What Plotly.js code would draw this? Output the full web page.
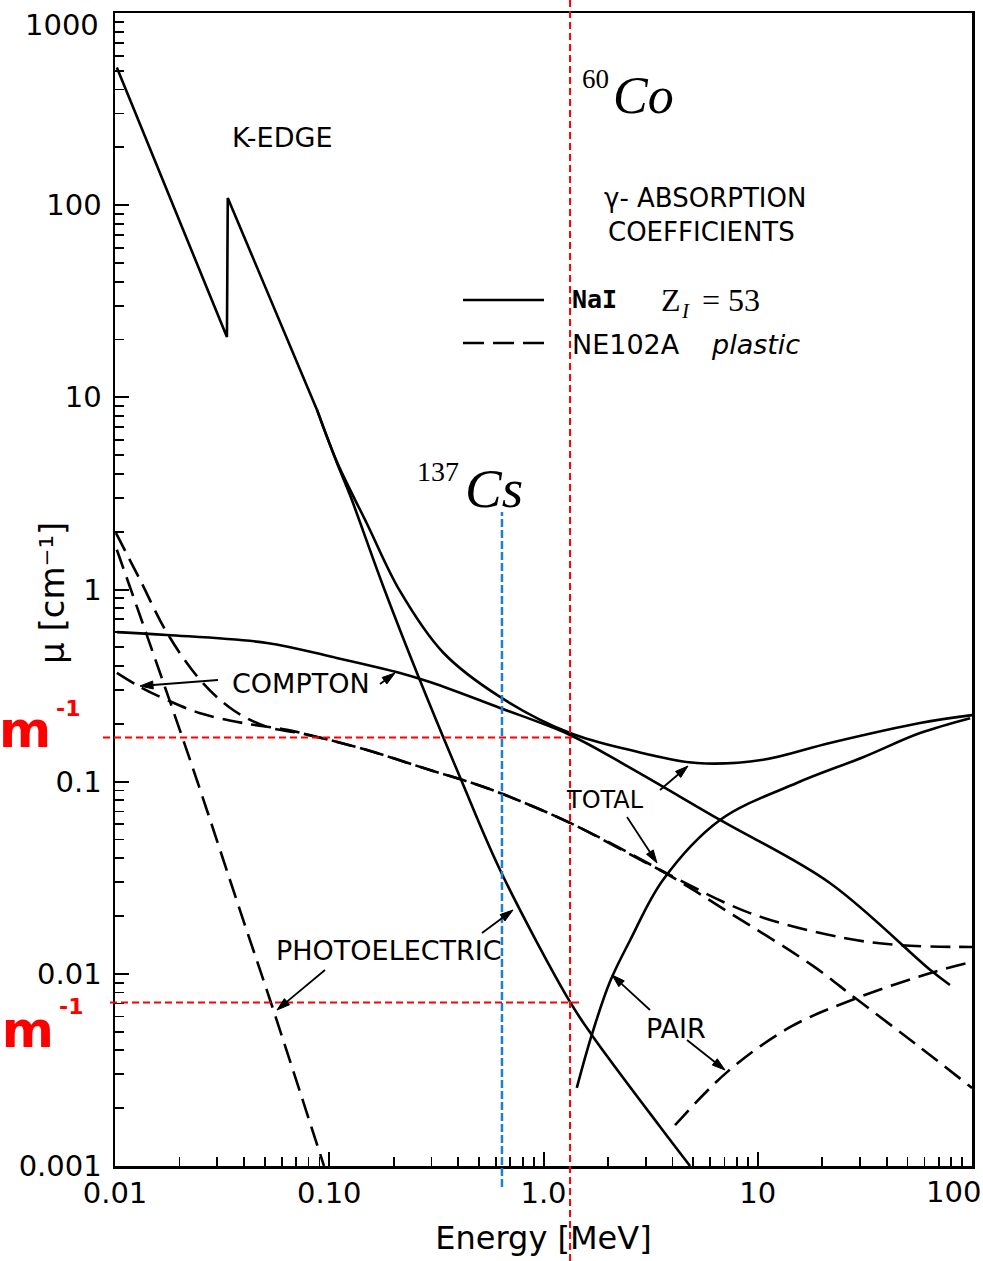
<!DOCTYPE html>
<html>
<head>
<meta charset="utf-8">
<script src="https://cdn.plot.ly/plotly-3.0.1.min.js"></script>
<style>html,body{margin:0;padding:0;background:#fff;}</style>
</head>
<body>
<div id="chart" style="width:983px;height:1261px;"></div>
<script>
// ---------------- data ----------------
// NaI (solid lines)
const naiTotalE  = [0.0102, 0.0333, 0.0336, 0.0877, 0.1087, 0.150, 0.214, 0.340, 0.627, 1.33, 2.54, 5.2, 10.6, 21.7, 57.2, 100];
const naiTotalMu = [520,    20.6,   109,    8.6,    4.6,    2.2,   0.98,  0.47,  0.276, 0.179, 0.146, 0.125, 0.130, 0.159, 0.202, 0.222];
const naiPhotoE  = [0.0877, 0.1087, 0.125, 0.178, 0.259, 0.407, 0.627, 1.33, 1.68, 3.50, 4.83];
const naiPhotoMu = [8.6,    4.55,   3.10,  1.05,  0.359, 0.106, 0.0347, 0.00714, 0.00481, 0.0016, 0.001];
const naiComptonE  = [0.0102, 0.0175, 0.0512, 0.104, 0.214, 0.295, 0.627, 1.33, 2.54, 6.67, 21.7, 63.7, 78.9];
const naiComptonMu = [0.60,   0.58,   0.527,  0.445, 0.368, 0.330, 0.242, 0.175, 0.118, 0.0632, 0.0297, 0.0105, 0.00875];
const naiPairE  = [1.43, 1.68, 2.04, 2.54, 3.61, 6.67, 15.2, 31.0, 57.2, 98];
const naiPairMu = [0.00255, 0.00481, 0.00907, 0.0150, 0.0308, 0.0632, 0.0984, 0.134, 0.179, 0.214];
// NE102A plastic (dashed lines)
const plTotalE  = [0.0101, 0.0131, 0.0175, 0.025, 0.0356, 0.0512, 0.073, 0.0877, 0.150, 0.295, 0.421, 0.627, 1.33, 3.5, 9.2, 25.0, 46.1, 100];
const plTotalMu = [1.97,   1.12,   0.594,  0.338, 0.236,  0.193,  0.179, 0.171,  0.146, 0.115, 0.102, 0.0873, 0.061, 0.0347, 0.0207, 0.0154, 0.0141, 0.0138];
const plPhotoE  = [0.0102, 0.0171, 0.0241, 0.0387, 0.0535, 0.0945];
const plPhotoMu = [1.61,   0.311,  0.102,  0.0207, 0.00705, 0.001];
const plComptonE  = [0.0102, 0.0131, 0.0175, 0.025, 0.0395, 0.0635, 0.0877, 0.150, 0.295, 0.421, 0.627, 1.33, 3.5, 7.43, 18.1, 28.5, 55.4, 100];
const plComptonMu = [0.368,  0.311,  0.266,  0.227, 0.202,  0.186,  0.171,  0.146, 0.115, 0.102, 0.0873, 0.061, 0.0347, 0.0207, 0.0110, 0.00748, 0.00426, 0.00255];
const plPairE  = [4.11, 7.19, 14.2, 29.0, 65.8, 100];
const plPairMu = [0.00163, 0.00308, 0.00529, 0.00748, 0.0102, 0.01153];
// reference markers
const co60Energy = 1.33;    // MeV
const cs137Energy = 0.64;   // MeV (as drawn)
const muMarks = [0.17, 0.0071];
// axis ticks
const xTickVals = [0.01, 0.1, 1, 10, 100];
const xTickText = ['0.01', '0.10', '1.0', '10', '100'];
const yTickVals = [1000, 100, 10, 1, 0.1, 0.01, 0.001];
const yTickText = ['1000', '100', '10', '1', '0.1', '0.01', '0.001'];

// ---------------- layout helpers ----------------
const W = 983, H = 1261, L = 115, R = 972, T = 13, B = 1166;
const px = xp => (xp - L) / (R - L);
const py = yp => (B - yp) / (B - T);
function minorVals(lo, hi) {
  const v = [];
  for (let e = lo; e < hi; e++) for (let k = 2; k <= 9; k++) v.push(k * Math.pow(10, e));
  return v;
}

const SOLID = {color: 'black', width: 2.6};
const DASH = {color: 'black', width: 2.6, dash: '20px,9px'};
function tr(x, y, line, shape) {
  return {x, y, type: 'scatter', mode: 'lines', line: Object.assign({shape: shape || 'spline', smoothing: 1}, line), hoverinfo: 'skip', showlegend: false};
}
const edgeN = 4;
const data = [
  tr(naiTotalE.slice(0, edgeN), naiTotalMu.slice(0, edgeN), SOLID, 'linear'),
  tr(naiTotalE.slice(edgeN - 1), naiTotalMu.slice(edgeN - 1), SOLID),
  tr(naiPhotoE, naiPhotoMu, SOLID),
  tr(naiComptonE, naiComptonMu, SOLID),
  tr(naiPairE, naiPairMu, SOLID),
  tr(plTotalE, plTotalMu, DASH),
  tr(plPhotoE, plPhotoMu, DASH),
  tr(plComptonE, plComptonMu, DASH),
  tr(plPairE, plPairMu, DASH)
];

const LBL = 'DejaVu Sans';
const SERIF = 'Liberation Serif';
function txt(xp, yp, text, size, anchor, fontExtra, extra) {
  return Object.assign({xref: 'paper', yref: 'paper', x: px(xp), y: py(yp), text, showarrow: false,
    xanchor: anchor || 'center', yanchor: 'middle',
    font: Object.assign({family: LBL, size, color: 'black'}, fontExtra || {})}, extra || {});
}
const RED_B = {color: '#ff0000', weight: 'bold'};

const annotations = [
  // end tick labels placed inside the canvas, as in the original
  txt(953, 1192, xTickText[xTickText.length - 1], 29),
  txt(101, 25, yTickText[0], 29, 'right'),
  txt(282, 138, 'K-EDGE', 27),
  txt(602, 198, 'γ- ABSORPTION', 26, 'left'),
  txt(606, 232, 'COEFFICIENTS', 26, 'left'),
  txt(570, 300, 'NaI', 25, 'left', {family: 'DejaVu Sans Mono', weight: 'bold'}),
  txt(659, 300, 'Z', 32, 'left', {family: SERIF}),
  txt(679, 311, 'I', 21, 'left', {family: SERIF, style: 'italic'}),
  txt(700, 300, '= 53', 32, 'left', {family: SERIF}),
  txt(570, 345, 'NE102A', 27, 'left'),
  txt(709, 345, 'plastic', 27, 'left', {style: 'italic'}),
  txt(580, 79, '60', 27, 'left', {family: SERIF}),
  txt(611, 95, 'Co', 52, 'left', {family: SERIF, style: 'italic'}),
  txt(415, 471, '137', 28, 'left', {family: SERIF}),
  txt(463, 488, 'Cs', 55, 'left', {family: SERIF, style: 'italic'}),
  txt(301, 683, 'COMPTON', 27),
  txt(605, 800, 'TOTAL', 24),
  txt(389, 950, 'PHOTOELECTRIC', 27),
  txt(676, 1028, 'PAIR', 27),
  txt(53, 730, 'm', 50, 'right', RED_B),
  txt(54, 708, '-1', 22, 'left', RED_B),
  txt(56, 1030, 'cm', 50, 'right', RED_B),
  txt(57, 1006, '-1', 22, 'left', RED_B),
  txt(52, 593, 'μ [cm⁻¹]', 34, 'center', {}, {textangle: -90})
];

const RED = {color: '#ff0000', width: 2, dash: '7px,4px'};
const shapes = [
  {type: 'line', xref: 'x', yref: 'paper', x0: co60Energy, x1: co60Energy, y0: py(H), y1: py(0), line: RED},
  {type: 'line', xref: 'paper', yref: 'y', x0: px(103), x1: px(575), y0: muMarks[0], y1: muMarks[0], line: RED},
  {type: 'line', xref: 'paper', yref: 'y', x0: px(110), x1: px(580), y0: muMarks[1], y1: muMarks[1], line: RED},
  {type: 'line', xref: 'x', yref: 'paper', x0: cs137Energy, x1: cs137Energy, y0: py(1187), y1: py(512), line: {color: '#1b7fd4', width: 2.5, dash: '8px,3px'}},
  {type: 'line', xref: 'paper', yref: 'paper', x0: px(463), x1: px(544), y0: py(300), y1: py(300), line: {color: 'black', width: 2.6}},
  {type: 'line', xref: 'paper', yref: 'paper', x0: px(463), x1: px(544), y0: py(343), y1: py(343), line: {color: 'black', width: 2.6, dash: '21px,9px'}}
];
// label arrows (head x,y ; tail x,y in picture pixels)
const arrowList = [
  [140, 686, 218, 680], [395, 673, 380, 684], [688, 766, 660, 790], [657, 863, 627, 817],
  [513, 910, 482, 933], [277, 1010, 325, 970], [612, 975, 650, 1010], [725, 1070, 687, 1040]
];
arrowList.forEach(([hx, hy, tx, ty]) => {
  const dx = hx - tx, dy = hy - ty, len = Math.hypot(dx, dy), ux = dx / len, uy = dy / len;
  const bx = hx - ux * 13, by = hy - uy * 13, nx = -uy * 4, ny = ux * 4;
  shapes.push({type: 'line', xref: 'paper', yref: 'paper', x0: px(tx), y0: py(ty), x1: px(bx), y1: py(by), line: {color: 'black', width: 1.8}});
  shapes.push({type: 'path', xref: 'paper', yref: 'paper',
    path: 'M' + px(hx) + ',' + py(hy) + ' L' + px(bx + nx) + ',' + py(by + ny) + ' L' + px(bx - nx) + ',' + py(by - ny) + ' Z',
    fillcolor: 'black', line: {color: 'black', width: 1}});
});

const axisCommon = {
  type: 'log', showgrid: false, zeroline: false, showline: true, linecolor: 'black', linewidth: 2.5, mirror: true,
  ticks: 'inside', ticklen: 14, tickwidth: 2, tickcolor: 'black', tickmode: 'array',
  tickfont: {family: 'DejaVu Sans', size: 29, color: 'black'}
};
const layout = {
  width: W, height: H,
  margin: {l: L, r: W - R, t: T, b: H - B, pad: 0},
  paper_bgcolor: 'white', plot_bgcolor: 'white',
  showlegend: false,
  xaxis: Object.assign({}, axisCommon, {
    range: [-2, 2], tickvals: xTickVals.slice(0, -1), ticktext: xTickText.slice(0, -1), ticklabelstandoff: 0,
    minor: {tickmode: 'array', tickvals: minorVals(-2, 2), ticks: 'inside', ticklen: 9, tickwidth: 1.8, tickcolor: 'black', showgrid: false},
    title: {text: 'Energy [MeV]', font: {family: 'DejaVu Sans', size: 32, color: 'black'}, standoff: 18}
  }),
  yaxis: Object.assign({}, axisCommon, {
    range: [-3, 3], tickvals: yTickVals.slice(1), ticktext: yTickText.slice(1), ticklabelstandoff: 5,
    minor: {tickmode: 'array', tickvals: minorVals(-3, 3), ticks: 'inside', ticklen: 9, tickwidth: 1.8, tickcolor: 'black', showgrid: false}
  }),
  annotations, shapes
};
Plotly.newPlot('chart', data, layout, {staticPlot: true});
</script>
</body>
</html>
